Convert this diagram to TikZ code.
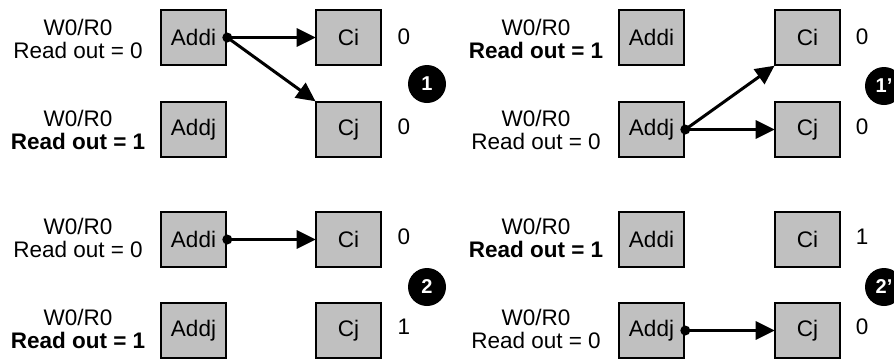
\documentclass[tikz,border=0pt]{standalone}
\usepackage{fontspec}
\setmainfont{Liberation Sans}
\usetikzlibrary{arrows.meta}
\definecolor{boxgray}{HTML}{C0C0C0}
\tikzset{
  box/.style={draw=black, line width=2.6pt, fill=boxgray, minimum width=65pt, minimum height=55pt, inner sep=0pt, font=\fontsize{22.5}{25}\selectfont},
  lbl/.style={align=center, inner sep=0pt, font=\fontsize{22.5}{23}\selectfont},
  val/.style={inner sep=0pt, font=\fontsize{22.5}{25}\selectfont},
  badge/.style={circle, fill=black, minimum size=38pt, inner sep=0pt, text=white, font=\fontsize{20}{22}\selectfont\bfseries},
  conn/.style={line width=3pt, -{Triangle[length=19pt, width=18pt]}, shorten >=-1pt},
  dotc/.style={fill=black}
}
\begin{document}
\begin{tikzpicture}[x=1pt, y=-1pt]
\useasboundingbox (0,0) rectangle (894,360);
\clip (0,0) rectangle (894,360);
% ---------- Panel 1 (top-left)
\node[lbl] (t1a) at (78,39) {W0/R0\\Read out = 0};
\node[lbl] (t1b) at (78,130) {W0/R0\\\textbf{Read out = 1}};
\node[box] (a1i) at (193.5,37.5) {Addi};
\node[box] (a1j) at (193.5,129.5) {Addj};
\node[box] (c1i) at (348.5,37.5) {Ci};
\node[box] (c1j) at (348.5,129.5) {Cj};
\node[val] (v1i) at (404,37) {0};
\node[val] (v1j) at (404,127) {0};
\node[badge] (b1) at (427,84) {1};
\draw[conn] (a1i.east) -- (c1i.west);
\draw[conn] (a1i.east) -- (c1j.north west);
\fill[dotc] (a1i.east) circle (5pt);
% ---------- Panel 1' (top-right)
\node[lbl] (t2a) at (536,39) {W0/R0\\\textbf{Read out = 1}};
\node[lbl] (t2b) at (536,130) {W0/R0\\Read out = 0};
\node[box] (a2i) at (651.5,37.5) {Addi};
\node[box] (a2j) at (651.5,129.5) {Addj};
\node[box] (c2i) at (807.5,37.5) {Ci};
\node[box] (c2j) at (807.5,129.5) {Cj};
\node[val] (v2i) at (862,37) {0};
\node[val] (v2j) at (862,127) {0};
\node[badge] (b2) at (884,86) {1'};
\draw[conn] (a2j.east) -- (c2i.south west);
\draw[conn] (a2j.east) -- (c2j.west);
\fill[dotc] (a2j.east) circle (5pt);
% ---------- Panel 2 (bottom-left)
\node[lbl] (t3a) at (78,238) {W0/R0\\Read out = 0};
\node[lbl] (t3b) at (78,329) {W0/R0\\\textbf{Read out = 1}};
\node[box] (a3i) at (193.5,239.5) {Addi};
\node[box] (a3j) at (193.5,330.5) {Addj};
\node[box] (c3i) at (348.5,239.5) {Ci};
\node[box] (c3j) at (348.5,330.5) {Cj};
\node[val] (v3i) at (404,237) {0};
\node[val] (v3j) at (404,327) {1};
\node[badge] (b3) at (427,287) {2};
\draw[conn] (a3i.east) -- (c3i.west);
\fill[dotc] (a3i.east) circle (5pt);
% ---------- Panel 2' (bottom-right)
\node[lbl] (t4a) at (536,238) {W0/R0\\\textbf{Read out = 1}};
\node[lbl] (t4b) at (536,329) {W0/R0\\Read out = 0};
\node[box] (a4i) at (651.5,239.5) {Addi};
\node[box] (a4j) at (651.5,330.5) {Addj};
\node[box] (c4i) at (807.5,239.5) {Ci};
\node[box] (c4j) at (807.5,330.5) {Cj};
\node[val] (v4i) at (862,237) {1};
\node[val] (v4j) at (862,327) {0};
\node[badge] (b4) at (884,287) {2'};
\draw[conn] (a4j.east) -- (c4j.west);
\fill[dotc] (a4j.east) circle (5pt);
\end{tikzpicture}
\end{document}
